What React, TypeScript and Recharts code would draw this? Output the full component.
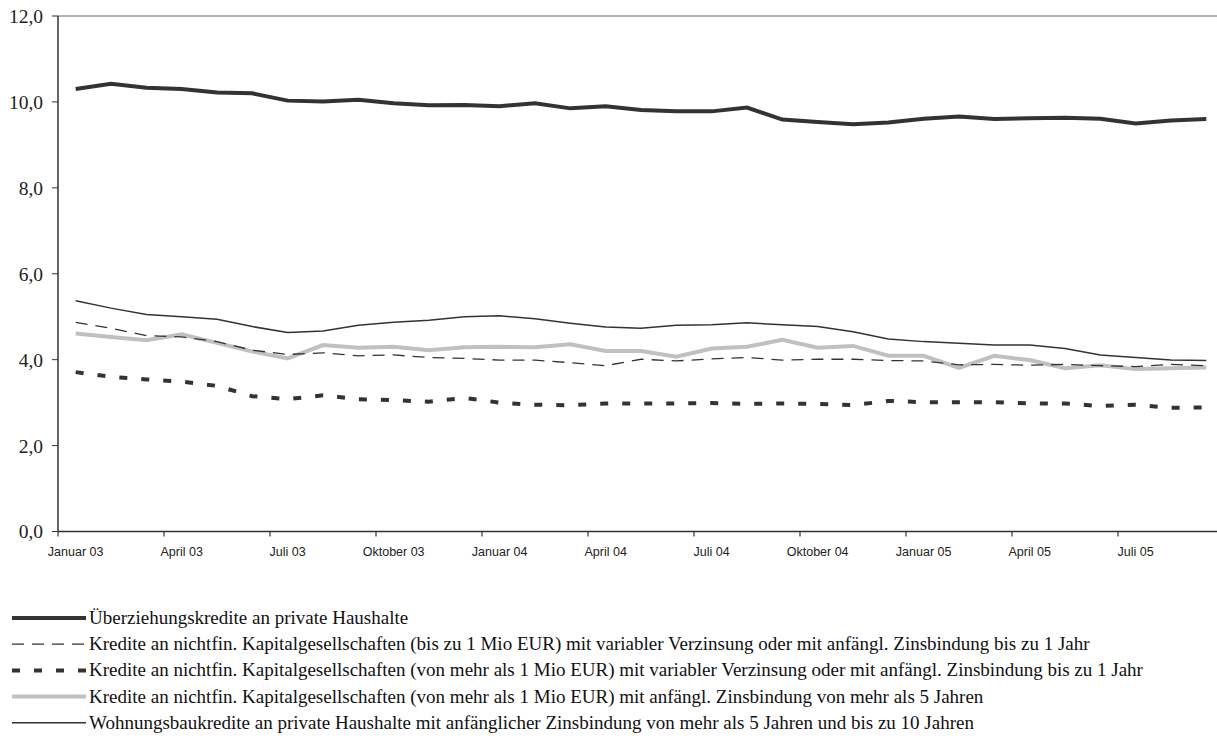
import React from "react";
import { LineChart, Line, XAxis, YAxis, ReferenceLine } from "recharts";

// Monatswerte Januar 2003 bis September 2005
const MONTHS = [
  "Januar 03", "Februar 03", "März 03", "April 03", "Mai 03", "Juni 03",
  "Juli 03", "August 03", "September 03", "Oktober 03", "November 03", "Dezember 03",
  "Januar 04", "Februar 04", "März 04", "April 04", "Mai 04", "Juni 04",
  "Juli 04", "August 04", "September 04", "Oktober 04", "November 04", "Dezember 04",
  "Januar 05", "Februar 05", "März 05", "April 05", "Mai 05", "Juni 05",
  "Juli 05", "August 05", "September 05",
];

const ueberziehung = [
  10.3, 10.42, 10.33, 10.3, 10.22, 10.2, 10.03, 10.01, 10.05, 9.97, 9.92,
  9.93, 9.9, 9.97, 9.85, 9.9, 9.81, 9.78, 9.78, 9.87, 9.59, 9.53, 9.48, 9.52,
  9.61, 9.66, 9.6, 9.62, 9.63, 9.61, 9.5, 9.57, 9.6,
];

const kleinVariabel = [
  4.87, 4.73, 4.56, 4.53, 4.42, 4.22, 4.12, 4.16, 4.09, 4.11, 4.05, 4.03,
  3.99, 3.99, 3.93, 3.86, 4.01, 3.97, 4.02, 4.05, 3.99, 4.01, 4.01, 3.98,
  3.97, 3.88, 3.89, 3.87, 3.89, 3.86, 3.84, 3.89, 3.86,
];

const grossVariabel = [
  3.71, 3.6, 3.54, 3.49, 3.39, 3.15, 3.08, 3.17, 3.08, 3.06, 3.02, 3.11,
  3.0, 2.95, 2.94, 2.98, 2.98, 2.98, 2.99, 2.97, 2.98, 2.97, 2.94, 3.04,
  3.01, 3.01, 3.01, 2.98, 2.98, 2.92, 2.95, 2.88, 2.89,
];

const grossFuenfJahre = [
  4.61, 4.53, 4.45, 4.59, 4.39, 4.19, 4.03, 4.34, 4.28, 4.3, 4.22, 4.29,
  4.3, 4.29, 4.36, 4.2, 4.2, 4.07, 4.26, 4.3, 4.46, 4.28, 4.32, 4.09, 4.09,
  3.81, 4.09, 3.99, 3.8, 3.87, 3.78, 3.8, 3.82,
];

const wohnungsbau = [
  5.37, 5.2, 5.05, 5.0, 4.94, 4.77, 4.63, 4.67, 4.8, 4.87, 4.92, 5.0, 5.02,
  4.95, 4.85, 4.76, 4.73, 4.8, 4.81, 4.86, 4.81, 4.77, 4.65, 4.48, 4.42,
  4.38, 4.34, 4.34, 4.26, 4.11, 4.05, 3.99, 3.98,
];

const Y_TICKS = [0, 2, 4, 6, 8, 10, 12];

const SERIES = [
  {
    key: "ueberziehung",
    name: "Überziehungskredite an private Haushalte",
    color: "#333333",
    width: 4,
    dash: undefined as string | undefined,
  },
  {
    key: "kleinVariabel",
    name: "Kredite an nichtfin. Kapitalgesellschaften (bis zu 1 Mio EUR) mit variabler Verzinsung oder mit anfängl. Zinsbindung bis zu 1 Jahr",
    color: "#333333",
    width: 1.3,
    dash: "12 8",
  },
  {
    key: "grossVariabel",
    name: "Kredite an nichtfin. Kapitalgesellschaften (von mehr als 1 Mio EUR) mit variabler Verzinsung oder mit anfängl. Zinsbindung bis zu 1 Jahr",
    color: "#333333",
    width: 4,
    dash: "8 14",
  },
  {
    key: "grossFuenfJahre",
    name: "Kredite an nichtfin. Kapitalgesellschaften (von mehr als 1 Mio EUR) mit anfängl. Zinsbindung von mehr als 5 Jahren",
    color: "#c0c0c0",
    width: 4,
    dash: undefined,
  },
  {
    key: "wohnungsbau",
    name: "Wohnungsbaukredite an private Haushalte mit anfänglicher Zinsbindung von mehr als 5 Jahren und bis zu 10 Jahren",
    color: "#333333",
    width: 1.5,
    dash: undefined,
  },
];

// gray line first so the dashed one sits on top of it
const DRAW_ORDER = [3, 0, 1, 2, 4];

const data = MONTHS.map((month, i) => ({
  month,
  ueberziehung: ueberziehung[i],
  kleinVariabel: kleinVariabel[i],
  grossVariabel: grossVariabel[i],
  grossFuenfJahre: grossFuenfJahre[i],
  wohnungsbau: wohnungsbau[i],
}));

const CHART_W = 1224;
const LEFT = 58;
const BAND = (CHART_W - LEFT) / MONTHS.length;

const fmt = (v: number) => v.toFixed(1).replace(".", ",");

function MonthTick(props: any) {
  const { x, y, payload } = props;
  const half = BAND / 2;
  return (
    <g>
      <line x1={x - half} x2={x - half} y1={y} y2={y + 5} stroke="#333" strokeWidth={1.2} />
      <text
        x={x}
        y={y + 24}
        textAnchor="middle"
        fontFamily="'Liberation Sans', Arial, sans-serif"
        fontSize={12.5}
        fill="#222"
      >
        {payload.value}
      </text>
    </g>
  );
}

function ChartLegend() {
  return (
    <svg width={1217} height={140} style={{ position: "absolute", left: 0, top: 600 }}>
      {SERIES.map((s, i) => {
        const cy = 18 + i * 26.2;
        return (
          <g key={s.key}>
            <line
              x1={12}
              x2={86}
              y1={cy}
              y2={cy}
              stroke={s.color}
              strokeWidth={s.width}
              strokeDasharray={s.dash}
            />
            <text
              x={89}
              y={cy + 6}
              fontFamily="'Liberation Serif', 'Times New Roman', serif"
              fontSize={19}
              fill="#111"
            >
              {s.name}
            </text>
          </g>
        );
      })}
    </svg>
  );
}

export default function App() {
  return (
    <div
      style={{
        position: "absolute",
        left: 0,
        top: 0,
        width: 1217,
        height: 740,
        overflow: "hidden",
        background: "#fff",
      }}
    >
      <LineChart
        width={CHART_W}
        height={600}
        data={data}
        margin={{ top: 16, right: 0, left: 8, bottom: 38.5 }}
      >
        <XAxis
          dataKey="month"
          scale="band"
          interval={2}
          tickLine={false}
          tickSize={0}
          tickMargin={0}
          height={30}
          axisLine={{ stroke: "#333", strokeWidth: 1.5 }}
          tick={<MonthTick />}
        />
        <YAxis
          width={50}
          domain={[0, 12]}
          ticks={Y_TICKS}
          tickFormatter={fmt}
          tickSize={6}
          tickMargin={9}
          axisLine={{ stroke: "#333", strokeWidth: 1.5 }}
          tickLine={{ stroke: "#333" }}
          tick={{
            fontFamily: "'Liberation Serif', 'Times New Roman', serif",
            fontSize: 19.5,
            fill: "#222",
          }}
        />
        <ReferenceLine y={12} stroke="#999" strokeWidth={1.5} />
        {DRAW_ORDER.map((idx) => {
          const s = SERIES[idx];
          return (
            <Line
              key={s.key}
              type="linear"
              dataKey={s.key}
              name={s.name}
              stroke={s.color}
              strokeWidth={s.width}
              strokeDasharray={s.dash}
              dot={false}
              isAnimationActive={false}
            />
          );
        })}
      </LineChart>
      <ChartLegend />
    </div>
  );
}
